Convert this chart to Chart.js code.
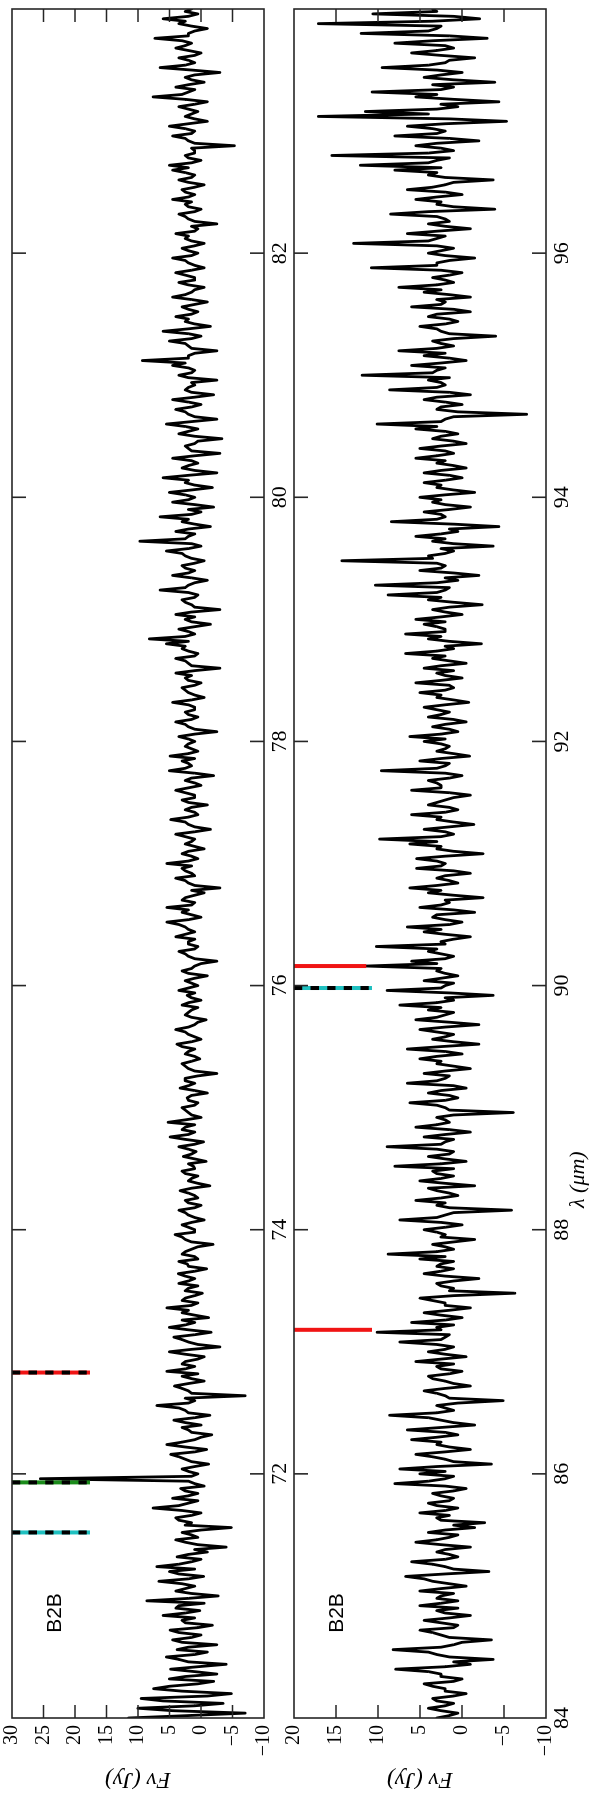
<!DOCTYPE html>
<html lang="en">
<head>
<meta charset="UTF-8">
<title>B2B spectrum</title>
<script src="https://cdn.jsdelivr.net/npm/chart.js"></script>
<style>
    html, body { margin: 0; padding: 0; background: #fff; overflow: hidden; }
    body { width: 600px; height: 1800px; position: relative; }
    /* the figure is drawn landscape and turned a quarter turn, like the original page */
    #sheet {
        position: absolute; left: 0; top: 0;
        width: 1800px; height: 600px;
        transform-origin: 0 0;
        transform: translate(0, 1800px) rotate(-90deg);
    }
    canvas { display: block; position: absolute; left: 0; }
    #panel-a { top: 0; }
    #panel-b { top: 270px; }
</style>
</head>
<body>
<div id="sheet">
    <canvas id="panel-a" width="1800" height="290"></canvas>
    <canvas id="panel-b" width="1800" height="330"></canvas>
</div>

<script>
// wavelength grid: 0.02 um between samples
const STEP = 0.02;
const startA = 70;
const startB = 84;

// F_nu (Jy), 70.00 .. 84.00 um, one micron per row
const fluxA = [
    11.5, 2.0, -7.0, 4.5, 10.0, 1.0, -3.5, 6.0, 9.5, -1.0, -4.8, 3.0, 7.5, 5.0, 0.5, -2.0, 5.0, 2.5, -2.5, 1.0, 4.8, 0.5, -4.0, 2.0, 3.5, 5.5, 1.0, -1.0, 3.8, 2.0, -2.5, 3.0, 4.5, 1.5, 0.0, 3.5, 4.9, 0.5, -1.8, 2.5, 3.0, 1.0, 6.0, 2.5, 0.2, 4.0, 3.5, -0.5, 8.6, 2.0,
    -2.7, 1.5, 4.0, 2.5, 1.0, 3.0, 6.7, 2.0, -0.4, 3.5, 5.0, 1.0, 7.0, 3.5, 1.5, 0.0, 3.8, 2.0, -1.0, 1.0, -4.0, 0.5, 2.5, 4.0, 0.5, 1.5, 3.0, 0.0, -4.8, 2.5, 1.5, 3.5, 4.0, 1.5, 0.0, 3.0, 7.6, 3.5, 2.0, 0.5, 4.5, 2.0, 0.5, 2.5, 3.2, -0.5, 1.0, 2.0, 25.5, 1.5,
    0.5, 2.0, 3.0, 1.0, -1.2, 1.5, 2.5, 3.5, 4.8, 1.0, -0.9, 2.5, 5.4, 3.0, 1.0, 0.0, -1.7, 1.5, 2.0, 3.0, 0.0, 2.5, 4.3, 1.0, -1.4, 2.0, 2.5, 3.5, 7.0, 2.0, 1.0, 2.5, -7.0, 1.5, 2.0, 3.0, 4.2, 2.0, -0.5, 1.5, 3.0, 0.5, 5.4, 2.5, 1.0, 3.0, 2.5, 0.5, -0.5, 2.5,
    5.0, 1.5, -3.0, 0.5, 2.0, 3.0, 4.3, 1.0, -1.6, 2.0, 5.0, 2.5, 1.0, 3.0, -1.2, 1.0, 3.0, 2.0, 5.4, 1.5, 0.5, 3.0, 2.5, 1.0, -0.2, 2.5, 2.0, 0.5, 3.5, 2.0, 1.0, 2.5, 3.6, 1.0, -0.9, 2.0, 2.2, 3.5, 0.5, 1.0, 3.0, 2.5, 1.5, 0.5, -1.9, 1.5, 2.5, 3.0, 4.1, 1.0,
    1.0, 2.0, 3.0, 1.5, -0.5, 1.0, 2.0, 2.5, 3.5, 1.0, 0.0, 2.0, 2.5, 0.5, 1.0, 2.0, 3.3, 1.5, -1.4, 0.5, 2.0, 1.5, 0.5, 2.5, 3.0, 1.0, 1.2, 2.0, -0.8, 1.0, 2.8, 1.5, 0.8, 2.0, 3.5, 1.0, -0.4, 2.5, 4.9, 2.0, 1.0, 3.0, 2.5, 1.0, 5.2, 2.5, 0.0, 1.5, 2.0, 2.5,
    3.0, 1.0, 0.5, 2.0, 2.2, 1.5, -1.0, 1.0, 3.3, 2.0, 1.0, 2.5, 2.5, 0.5, -2.5, 1.0, 2.0, 2.5, 3.0, 1.5, 0.2, 1.0, 2.5, 2.0, 1.0, 3.0, 3.8, 1.5, 0.0, 1.0, 2.0, 2.5, 4.0, 2.0, 1.0, 0.5, -0.8, 1.5, 2.5, 2.0, 1.5, 0.5, 3.0, 2.0, 0.0, 1.5, 2.2, 1.0, 3.5, 2.0,
    0.5, 1.5, 2.5, 1.0, -1.0, 2.0, 3.0, 1.5, 1.0, 0.0, -2.5, 1.0, 2.0, 2.5, 3.5, 1.0, 0.5, 2.0, 2.0, 1.0, 4.0, 2.5, 1.0, 2.0, 2.5, 3.5, 5.4, 2.0, 0.0, 1.5, 3.0, 2.0, 5.4, 1.5, 1.0, 3.0, 2.5, 1.0, -0.5, 1.5, -3.0, 1.0, 2.0, 2.5, 4.0, 1.0, 1.5, 2.5, 3.0, 1.5,
    5.4, 2.0, 0.5, 1.5, 3.0, 2.0, -0.5, 1.0, 2.5, 1.5, 1.0, 2.5, 4.0, 1.0, -1.5, 1.0, 2.0, 2.5, 4.8, 2.0, 0.5, 1.0, 2.5, 1.5, -1.0, 2.0, 3.0, 1.0, 1.0, 2.5, 4.0, 2.0, 0.0, 1.0, 2.5, 1.5, -2.0, 1.0, 5.0, 2.5, 1.5, 2.0, 3.0, 1.0, 4.9, 2.0, 0.5, 1.5, 2.5, 2.0,
    1.0, 2.0, 3.5, 1.0, -2.5, 1.0, 2.0, 2.5, 4.0, 1.5, 0.5, 2.0, 2.5, 1.0, 1.0, 2.0, 4.5, 1.5, -0.5, 1.0, 2.0, 2.5, 3.0, 1.0, 0.0, 2.0, 2.5, 1.5, 4.0, 1.0, -3.0, 1.5, 2.0, 2.5, 4.0, 1.0, 0.5, 2.0, 3.0, 2.5, 5.5, 2.0, 8.2, 2.5, 1.0, 2.0, 3.5, 1.0, -1.5, 1.5,
    2.5, 1.0, 4.0, 1.5, -3.0, 1.0, 1.5, 2.5, 3.0, 1.0, 0.5, 2.0, 6.5, 2.5, 2.0, 1.0, -1.0, 1.5, 4.5, 2.0, 1.0, 2.5, 3.0, 1.0, -0.5, 1.5, 2.5, 3.0, 5.5, 2.0, 0.0, 1.5, 9.7, 2.5, 2.0, 1.0, 4.0, 2.0, -1.5, 1.0, 3.0, 2.0, 6.5, 1.5, 0.0, 2.0, -2.0, 1.0, 4.5, 2.0,
    1.0, 2.5, 5.0, 1.5, -1.8, 1.0, 2.5, 2.0, 6.0, 2.0, -2.5, 1.0, 3.0, 2.0, 0.5, 1.5, 4.5, 1.0, -3.0, 1.5, 2.0, 2.5, 1.0, 0.5, -3.3, 1.0, 3.5, 2.0, 0.5, 2.5, 5.5, 1.5, -2.5, 1.0, 2.0, 2.5, 4.0, 1.5, 0.0, 2.0, 4.5, 1.0, -2.0, 1.5, 2.5, 2.0, 1.0, 1.5, -2.5, 2.0,
    3.5, 1.5, 1.0, 2.0, 4.5, 2.5, 9.3, 2.0, 2.0, 1.0, -2.5, 1.5, 2.0, 2.5, 5.0, 1.5, 0.0, 2.0, 6.0, 2.0, -1.5, 1.0, 2.5, 2.0, 4.0, 1.5, 0.5, 2.0, 3.0, 1.0, -1.0, 1.5, 4.5, 2.5, 1.5, 1.0, -0.5, 2.0, 3.5, 1.0, 1.0, 2.5, 4.0, 1.5, -0.5, 1.0, 2.0, 2.5, 4.5, 1.5,
    0.5, 2.0, 3.0, 1.0, -0.5, 1.5, 2.5, 2.0, 4.0, 1.0, 0.5, 1.5, -2.5, 1.0, 2.0, 2.5, 3.5, 1.0, 0.0, 2.0, 2.5, 1.5, 4.5, 2.0, 1.0, 2.5, 3.0, 1.0, -0.5, 2.0, 3.5, 1.5, 1.0, 2.5, 4.5, 2.0, 5.0, 1.5, 0.0, 2.0, 2.5, 1.0, 1.0, 1.5, -5.3, 1.0, 2.0, 2.5, 4.5, 1.5,
    1.0, 2.5, 5.0, 2.0, -1.0, 1.0, 2.5, 1.5, 0.5, 2.0, 3.5, 1.0, -1.0, 2.5, 7.6, 3.0, 2.0, 1.0, 4.0, 2.0, -0.5, 1.5, 2.5, 1.0, -3.0, 1.5, 6.5, 2.5, 1.0, 2.0, 3.5, 1.0, 0.0, 2.0, 4.0, 2.5, 1.5, 3.0, 7.3, 2.0, 2.0, 1.0, -1.0, 1.5, 3.5, 2.5, 6.0, 2.0, 0.5, 2.5,
    1.5
];

// F_nu (Jy), 84.00 .. 98.00 um, one micron per row
const fluxB = [
    3.0, 1.5, 0.5, 2.5, 4.0, 2.0, 1.0, 3.0, 3.5, 1.0, -0.5, 2.0, 2.0, 3.5, 4.5, 1.0, 0.0, 2.5, 2.5, 4.0, 7.9, 2.0, -1.0, 1.0, -3.7, 1.5, 3.0, 4.0, 8.2, 2.5, 1.0, 0.0, -3.5, 1.5, 2.5, 3.5, 5.0, 1.0, 0.5, 2.5, 4.5, 1.5, -1.0, 2.0, 3.0, 0.5, 5.0, 2.5, 0.5, 3.0,
    2.5, 1.0, 5.0, 2.5, -0.5, 1.5, 3.5, 4.5, 6.7, 2.0, -3.2, 1.0, 2.0, 3.5, 6.0, 2.0, 0.5, 1.5, 3.0, 2.0, -1.0, 2.5, 5.5, 3.0, 1.5, 0.5, 4.0, 2.0, -1.5, 1.0, -2.7, 2.5, 3.0, 1.5, 5.0, 2.0, 0.5, 3.0, 4.0, 1.5, 1.0, 2.5, 3.5, 1.0, -0.5, 2.0, 8.0, 4.0, 2.0, 1.0,
    5.0, 2.0, 7.4, 3.0, -3.5, 1.0, 2.0, 3.5, 5.5, 2.0, -1.0, 1.5, 3.0, 2.5, 6.0, 3.0, 0.5, 2.0, 6.5, 2.5, -1.5, 1.0, 2.5, 4.0, 8.6, 3.0, 1.0, 2.0, 3.0, 0.5, -4.9, 1.5, 2.0, 3.0, 4.5, 2.0, -1.0, 1.0, 2.0, 3.5, 4.0, 1.5, 0.0, 2.5, 3.0, 1.0, 5.5, 2.5, -0.5, 2.0,
    4.0, 2.0, 1.0, 3.0, 7.4, 2.5, 2.0, 1.5, 10.1, 2.5, 3.0, 1.0, 6.0, 2.0, 0.0, 2.5, 4.5, 1.5, -1.0, 2.0, 2.0, 3.5, 5.0, 1.0, -6.3, 1.5, 1.0, 2.5, 3.0, 1.0, -2.0, 2.0, 4.5, 2.5, 1.0, 3.0, 2.5, 1.0, 5.0, 2.0, 8.8, 3.0, 1.0, 2.0, 3.5, 1.0, -1.5, 2.5, 2.0, 3.0,
    4.5, 2.0, 0.0, 2.5, 7.4, 3.0, 2.0, 1.0, -5.9, 1.5, 3.0, 2.0, 5.5, 2.5, 0.5, 1.5, 3.0, 4.0, -1.5, 2.0, 5.0, 2.5, 1.0, 3.0, 3.5, 1.0, 8.0, 2.5, -0.5, 2.0, 4.0, 1.5, 1.0, 3.0, 8.9, 2.5, 2.0, 1.0, 4.5, 2.0, -1.0, 1.5, 5.5, 3.0, 1.5, 2.0, 3.0, 1.0, -6.1, 1.5,
    2.0, 3.0, 6.2, 2.0, 0.5, 1.5, 4.0, 2.5, -0.5, 1.0, 6.5, 3.0, 2.0, 1.5, 4.5, 2.0, -1.0, 1.0, 3.0, 2.5, 5.0, 3.0, 0.0, 2.0, 6.5, 2.5, -2.0, 1.0, 3.5, 2.0, 1.0, 3.0, 5.0, 2.0, -2.0, 1.5, 5.5, 3.0, 2.0, 1.0, 4.0, 2.5, 7.4, 3.0, 1.0, 2.0, -3.7, 1.5, 8.9, 2.5,
    2.0, 1.0, 4.5, 2.5, 0.5, 2.0, 3.0, 2.5, 11.4, 3.0, 6.0, 2.0, 1.0, 2.5, 4.0, 3.0, 10.2, 2.0, 2.5, 1.0, -1.0, 2.0, 4.5, 2.5, 6.5, 1.5, 0.0, 2.0, 3.5, 3.0, -1.5, 1.0, 5.0, 2.5, 1.5, 2.0, -2.5, 1.0, 4.0, 2.5, 6.2, 3.0, 0.5, 1.5, 3.0, 2.0, -1.0, 1.0, 5.4, 2.5,
    2.0, 3.0, 5.4, 2.0, -2.5, 1.0, 3.0, 2.5, 6.2, 3.0, 9.8, 2.5, 1.0, 2.0, 4.5, 1.5, -1.4, 1.0, 3.0, 2.5, 6.0, 2.0, 0.5, 1.5, 4.0, 3.0, 2.0, 1.0, -1.0, 1.5, 6.0, 2.5, 2.5, 3.0, 4.0, 1.5, 0.0, 2.0, 9.6, 3.0, 2.0, 1.5, 5.0, 2.5, -0.9, 1.0, 3.0, 2.0, 1.5, 2.5,
    4.5, 2.0, 6.2, 2.5, 0.5, 1.5, 3.5, 2.0, -0.5, 1.0, 4.0, 2.5, 1.5, 3.0, 4.5, 2.0, -0.8, 1.0, 3.0, 2.5, 5.0, 2.0, 1.0, 1.5, 5.5, 2.5, 0.0, 2.0, 3.0, 1.0, 4.5, 2.5, -0.5, 1.5, 3.5, 2.0, 6.7, 3.0, 1.0, 2.0, -2.3, 1.5, 4.0, 2.5, 6.7, 2.0, 2.0, 3.0, 4.5, 2.0,
    5.5, 2.5, 0.0, 2.0, 3.5, 1.5, -2.4, 1.0, 4.0, 2.5, 8.8, 3.0, 2.0, 1.5, 10.3, 3.0, 0.5, 2.0, -2.0, 1.0, 5.0, 2.5, 2.0, 3.0, 14.3, 3.5, 4.0, 2.0, 1.0, 2.5, -3.7, 1.0, 3.5, 2.0, 5.5, 2.5, 0.5, 1.5, -4.4, 1.0, 8.4, 3.0, 2.0, 2.5, 4.5, 1.5, -1.0, 2.0, 3.5, 2.5,
    5.0, 2.0, -1.5, 1.0, 3.0, 2.5, 4.5, 2.0, 0.0, 1.5, 4.5, 2.5, -0.5, 1.0, 3.0, 2.0, 5.5, 3.0, 1.0, 2.0, 5.0, 2.5, -0.5, 1.0, 3.5, 2.5, 0.5, 2.0, 5.5, 3.0, 10.1, 2.5, 2.0, 1.0, -7.7, 0.5, 3.0, 2.5, 0.0, 2.0, 4.5, 3.0, -1.0, 1.5, 8.6, 3.0, 2.0, 2.5, 4.0, 1.5,
    11.9, 3.5, 3.0, 2.0, 6.0, 2.5, -0.5, 1.5, 4.5, 2.0, 7.5, 3.0, 1.0, 2.5, 3.5, 1.0, -4.0, 1.5, 2.5, 3.0, 5.0, 2.0, 0.5, 1.5, 4.0, 3.0, -1.0, 1.0, 6.0, 2.5, 2.0, 3.0, -1.0, 1.5, 4.5, 2.5, 7.5, 3.0, 1.0, 2.0, 3.5, 1.5, 0.0, 2.5, 10.8, 3.0, 3.0, 1.5, -1.5, 2.0,
    4.0, 2.5, 1.0, 3.0, 12.9, 4.0, 3.0, 2.0, 6.5, 3.0, -1.0, 2.0, 4.0, 1.5, 2.0, 3.0, 8.5, 4.0, -3.9, 1.0, 3.0, 2.5, 5.5, 3.0, 0.0, 2.0, 6.5, 3.5, 2.0, 1.0, -3.7, 2.0, 4.0, 3.0, 8.0, 2.5, 12.1, 4.0, 3.0, 1.5, 15.5, 4.0, 1.0, 2.5, 5.5, 3.0, -2.0, 1.5, 8.0, 3.0,
    2.0, 3.5, 6.5, 2.0, -5.3, 1.5, 17.1, 4.0, 11.5, 3.0, 0.5, 2.5, -4.4, 1.0, 5.5, 3.0, 10.7, 2.5, 1.0, 3.5, -3.9, 1.0, 4.5, 2.5, 0.0, 3.0, 9.5, 4.0, 2.0, 1.5, -1.5, 2.5, 6.0, 3.0, 1.0, 2.0, 8.0, 3.5, -3.0, 1.5, 12.0, 4.0, 3.0, 2.5, 17.1, 3.5, -2.1, 1.0, 10.6, 3.0,
    3.5
];

// line identifications: wavelength, and where the bar stops (Jy)
const linesA = [71.52, 71.93, 72.83];
const lineEndA = [17.6, 17.6, 17.6];
const linesB = [87.18, 90.16, 89.98];
const lineEndB = [10.7, 11.4, 10.7];

// labelled wavelength ticks
const labelsA = [72, 74, 76, 78, 80, 82];
const labelsB = [84, 86, 88, 90, 92, 94, 96];

Chart.defaults.font.family = '"Liberation Serif", serif';
Chart.defaults.color = '#000';

function spectrum(start, flux) {
    return flux.map((f, i) => ({ x: +(start + i * STEP).toFixed(2), y: f }));
}

// one bar per line; dashed ones are a black dash laid over a coloured bar
function idBars(lams, top, ends, colors, dashed) {
    const sets = [];
    lams.forEach((l, i) => {
        const pts = [{ x: l, y: top }, { x: l, y: ends[i] }];
        sets.push({ data: pts, borderColor: colors[i], borderWidth: 4, pointRadius: 0, order: 2 });
        if (dashed[i]) {
            sets.push({ data: pts, borderColor: '#000', borderWidth: 4, borderDash: [8.3, 8.3], pointRadius: 0, order: 1 });
        }
    });
    return sets;
}

const panelFrame = {
    id: 'panelFrame',
    afterDatasetsDraw(chart, args, opts) {
        const { ctx, chartArea: a, scales: { x, y } } = chart;
        ctx.save();
        ctx.strokeStyle = '#262626';
        ctx.lineWidth = 1.6;
        ctx.beginPath();
        x.ticks.forEach(t => {
            const px = x.getPixelForValue(t.value);
            if (px < a.left + 2 || px > a.right - 2) return;
            ctx.moveTo(px, a.top); ctx.lineTo(px, a.top + 14);
            ctx.moveTo(px, a.bottom); ctx.lineTo(px, a.bottom - 14);
        });
        y.ticks.forEach(t => {
            const py = y.getPixelForValue(t.value);
            if (py < a.top + 2 || py > a.bottom - 2) return;
            ctx.moveTo(a.left, py); ctx.lineTo(a.left + 13, py);
            ctx.moveTo(a.right, py); ctx.lineTo(a.right - 13, py);
        });
        ctx.stroke();
        ctx.strokeRect(a.left, a.top, a.width, a.height);

        ctx.fillStyle = '#000';
        ctx.textAlign = 'center';
        ctx.textBaseline = 'middle';
        (opts.notes || []).forEach(n => {
            ctx.font = n.font;
            const px = x.getPixelForValue(n.lam);
            const py = n.flux !== undefined ? y.getPixelForValue(n.flux) : a.bottom + n.below;
            ctx.fillText(n.text, px, py);
        });
        ctx.restore();
    }
};

const minus = v => (v < 0 ? '\u2212' + Math.abs(v) : String(v));

function makePanel(id, cfg) {
    return new Chart(document.getElementById(id), {
        type: 'line',
        data: {
            datasets: [{
                data: spectrum(cfg.start, cfg.flux),
                borderColor: '#000',
                borderWidth: 2.8,
                borderJoinStyle: 'round',
                borderCapStyle: 'round',
                pointRadius: 0,
                tension: 0,
                order: 3
            }].concat(cfg.bars)
        },
        options: {
            responsive: false,
            animation: false,
            events: [],
            layout: { padding: { top: cfg.padTop, right: 9, left: 0, bottom: 0 } },
            plugins: {
                legend: { display: false },
                tooltip: { enabled: false },
                panelFrame: { notes: cfg.notes }
            },
            scales: {
                x: {
                    type: 'linear',
                    min: cfg.start,
                    max: cfg.start + 14,
                    grid: { display: false, drawTicks: false },
                    border: { display: false },
                    ticks: {
                        stepSize: 2,
                        autoSkip: false,
                        maxRotation: 0,
                        padding: 3,
                        font: { size: 22 },
                        callback: v => (cfg.labels.includes(v) ? String(v) : '')
                    },
                    afterFit: s => { s.height = cfg.axisH; s.paddingLeft = 0; s.paddingRight = 0; }
                },
                y: {
                    min: -10,
                    max: cfg.top,
                    grid: { display: false, drawTicks: false },
                    border: { display: false },
                    ticks: { stepSize: 5, padding: 7, font: { size: 20 }, callback: minus },
                    title: {
                        display: true,
                        text: 'F\u03BD (Jy)',
                        font: { size: 23, style: 'italic' },
                        padding: { top: 7, bottom: 0 }
                    },
                    afterFit: s => { s.width = 82; s.paddingTop = 0; s.paddingBottom = 0; }
                }
            }
        },
        plugins: [panelFrame]
    });
}

makePanel('panel-a', {
    start: startA, flux: fluxA, top: 30, padTop: 12, axisH: 26, labels: labelsA,
    bars: idBars(linesA, 30, lineEndA, ['#1fc0c0', '#1b8c1b', '#f01414'], [true, true, true]),
    notes: [{ text: 'B2B', lam: 70.86, flux: 23.2, font: '21px "Liberation Sans", sans-serif' }]
});

makePanel('panel-b', {
    start: startB, flux: fluxB, top: 20, padTop: 24, axisH: 54, labels: labelsB,
    bars: idBars(linesB, 20, lineEndB, ['#f01414', '#f01414', '#1fc0c0'], [false, false, true]),
    notes: [
        { text: 'B2B', lam: 84.86, flux: 14.9, font: '21px "Liberation Sans", sans-serif' },
        { text: '\u03BB (\u03BCm)', lam: 88.41, below: 32, font: 'italic 22px "Liberation Serif", serif' }
    ]
});
</script>
</body>
</html>
